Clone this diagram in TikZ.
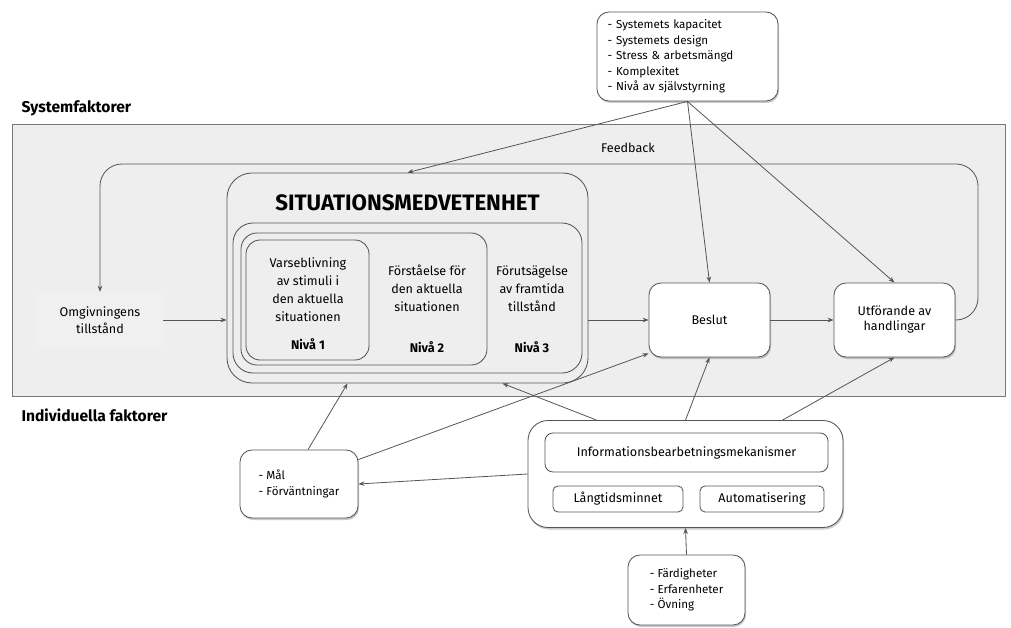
\documentclass[tikz,border=0pt]{standalone}
\usepackage{fontspec}
\setmainfont{Fira Sans}
\usetikzlibrary{arrows.meta,shadows}
\definecolor{bandGray}{HTML}{EEEEEE}
\definecolor{lineGray}{HTML}{555555}

\begin{document}
\begin{tikzpicture}
[x=1pt,y=-1pt,
  boxDecorate/.style={draw=lineGray,line width=0.85pt,rounded corners=12pt,inner sep=0pt,align=center},
  whiteDecorate/.style={boxDecorate,fill=white,drop shadow={shadow xshift=1pt,shadow yshift=-2pt,opacity=0.3,fill=black!70}},
  lineDecorate/.style={-{Stealth[length=6pt,width=4.5pt]},draw=lineGray,line width=0.8pt},
  textDecorate/.style={font=\fontsize{12.6}{18}\selectfont,align=center},
  listDecorate/.style={font=\fontsize{11.6}{15.5}\selectfont,align=left},
  labelDecorate/.style={anchor=west,font=\bfseries\fontsize{15.6}{18}\selectfont}]
\useasboundingbox (0,0) rectangle (1011,628);
%% system band
\draw[draw=lineGray!80,fill=bandGray,line width=0.8pt] (12,124) rectangle (1005,396);
\node (sysLabel) at (18,108) [labelDecorate] {Systemfaktorer};
\node (indLabel) at (18,415) [labelDecorate] {Individuella faktorer};
%% situation awareness boxes
\node (sa) at (407.5,278) [boxDecorate,rounded corners=25pt,minimum width=361pt,minimum height=210pt] {};
\node (sa3) at (407.5,298) [boxDecorate,rounded corners=20pt,minimum width=349pt,minimum height=150pt] {};
\node (sa2) at (364,299) [boxDecorate,rounded corners=16pt,minimum width=246pt,minimum height=132pt] {};
\node (sa1) at (307.5,300) [boxDecorate,rounded corners=14pt,minimum width=123pt,minimum height=120pt] {};
\node (saTitle) at (407.5,203) [font=\bfseries\fontsize{22.3}{26}\selectfont] {SITUATIONSMEDVETENHET};
\foreach \nodename/\x/\y/\txt in {
  niva1/308/290/{Varseblivning\\av stimuli i\\den aktuella\\situationen},
  niva2/427/288.5/{Förståelse för\\den aktuella\\situationen},
  niva3/532/288.5/{Förutsägelse\\av framtida\\tillstånd}}
{
  \node (\nodename) at (\x,\y) [textDecorate] {\txt};
}
\foreach \nodename/\x/\y/\txt in {
  nivaA/308/344/1, nivaB/427/347/2, nivaC/532/347/3}
{
  \node (\nodename) at (\x,\y) [textDecorate,font=\bfseries\fontsize{12.6}{15}\selectfont] {Nivå \txt};
}
%% main chain
\node (omg) at (100,320) [textDecorate,fill=white!12!bandGray,minimum width=126pt,minimum height=56pt,font=\fontsize{12.6}{17}\selectfont] {Omgivningens\\tillstånd};
\node (besl) at (709.5,320) [whiteDecorate,textDecorate,minimum width=121pt,minimum height=74pt] {Beslut};
\node (utf) at (894.5,320) [whiteDecorate,textDecorate,font=\fontsize{12.6}{15}\selectfont,minimum width=121pt,minimum height=74pt] {Utförande av\\handlingar};
\node (feedback) at (628,148) [textDecorate] {Feedback};
%% factor boxes
\node (sys) at (687.5,56.5) [whiteDecorate,listDecorate,text width=160pt,minimum width=181pt,minimum height=89pt] {- Systemets kapacitet\\- Systemets design\\- Stress \& arbetsmängd\\- Komplexitet\\- Nivå av självstyrning};
\node (info) at (685.5,474) [whiteDecorate,rounded corners=20pt,minimum width=315pt,minimum height=107pt] {};
\node (infoMek) at (686.5,452.5) [boxDecorate,fill=white,rounded corners=8pt,minimum width=283pt,minimum height=39pt,textDecorate] {Informationsbearbetningsmekanismer};
\node (minne) at (618,499) [boxDecorate,fill=white,rounded corners=5pt,minimum width=130pt,minimum height=26pt,textDecorate] {Långtidsminnet};
\node (auto) at (762,499) [boxDecorate,fill=white,rounded corners=5pt,minimum width=124pt,minimum height=26pt,textDecorate] {Automatisering};
\node (mal) at (299,484) [whiteDecorate,listDecorate,minimum width=118pt,minimum height=68pt] {- Mål\\- Förväntningar};
\node (fard) at (686.5,590) [whiteDecorate,listDecorate,minimum width=117pt,minimum height=70pt] {- Färdigheter\\- Erfarenheter\\- Övning};
%% connector ends
\coordinate (omgEnd) at (omg.east -| sa.west);
\coordinate (saOut) at (besl.west -| sa.east);
\coordinate (saLow1) at ([xshift=-60pt]sa.south);
\coordinate (saLow2) at ([xshift=95pt]sa.south);
\coordinate (infoL) at ([xshift=-89pt]info.north);
\coordinate (infoR) at ([xshift=97pt]info.north);
\coordinate (malTop) at ([xshift=9pt]mal.north);
\coordinate (malCorner) at ([yshift=-10pt]mal.north east);
\coordinate (beslCorner) at ([yshift=4pt]besl.south west);
%% edges
\path
\foreach \startnode/\endnode in {
  omg.east/omgEnd, saOut/besl.west, besl/utf,
  sys.south/sa.north, sys.south/besl.north, sys.south/utf.north,
  infoL/saLow2, info.north/besl.south, infoR/utf.south,
  info.west/mal.east, malTop/saLow1, malCorner/beslCorner, fard.north/info.south}
{
  (\startnode) edge[lineDecorate] (\endnode)
};
\draw[lineDecorate,rounded corners=22pt] (utf.east) -| (978,164) -| (omg.north);
\end{tikzpicture}
\end{document}
